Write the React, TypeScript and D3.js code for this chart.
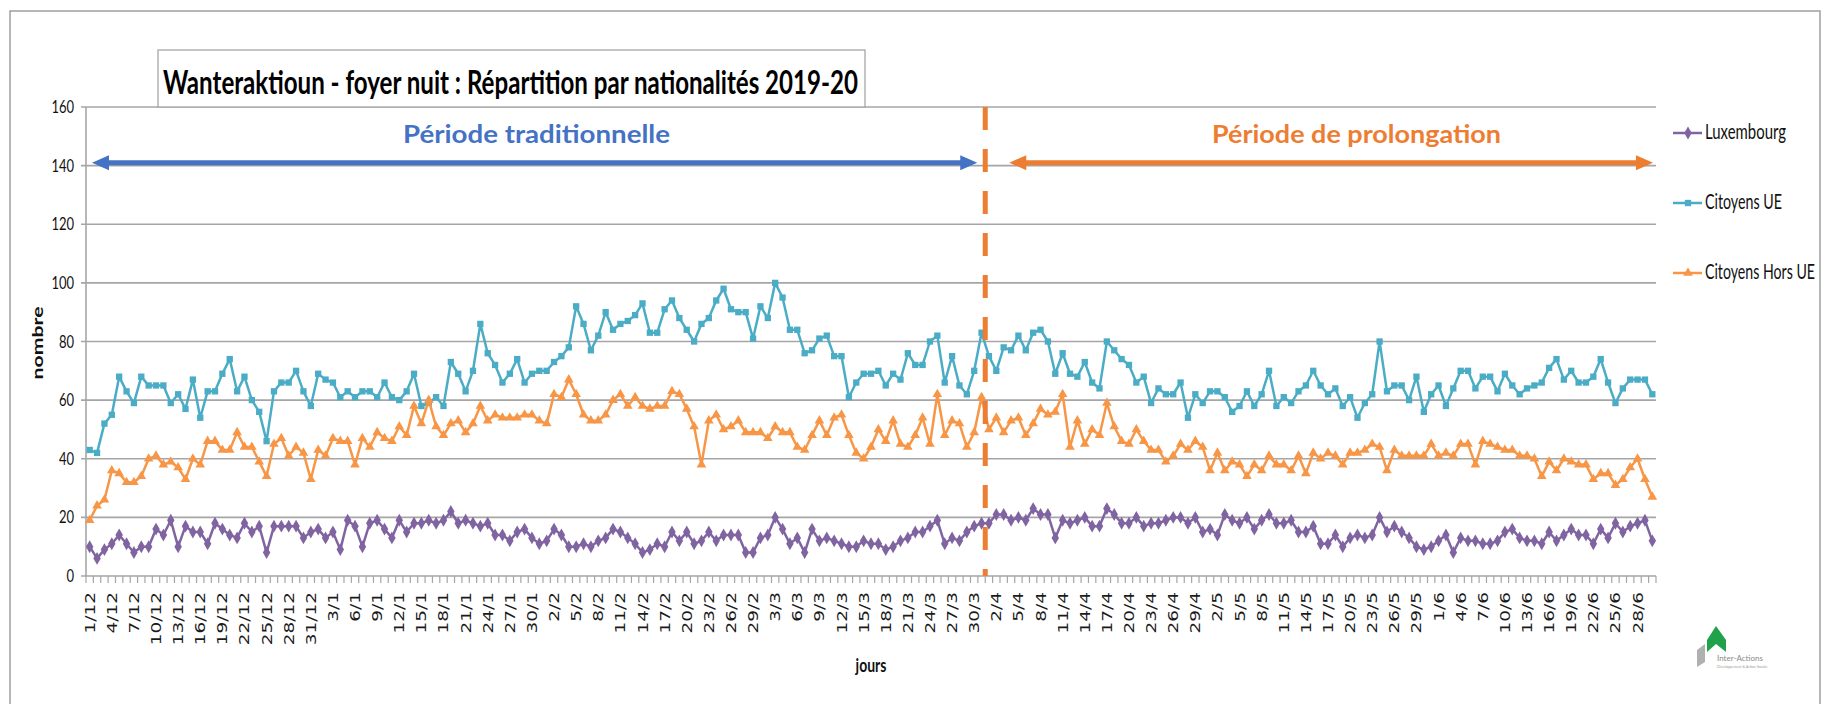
import React from 'react';
import * as d3 from 'd3';

// ---- data ----
const firstDay = new Date(2019, 11, 1);
const dayAfterLast = new Date(2020, 6, 1);
const categories: string[] = d3.timeDay.range(firstDay, dayAfterLast).map(d3.timeFormat('%-d/%-m'));

const luxembourg = [
  10,6,9,11,14,11,8,10,10,16,14,19,10,17,15,15,11,18,16,14,13,18,15,17,8,17,17,17,
  17,13,15,16,13,15,9,19,17,10,18,19,16,13,19,15,18,18,19,18,19,22,18,19,18,17,18,
  14,14,12,15,16,13,11,12,16,14,10,10,11,10,12,13,16,15,13,11,8,9,11,10,15,12,15,
  11,12,15,12,14,14,14,8,8,13,14,20,16,11,13,8,16,12,13,12,11,10,10,12,11,11,9,
  10,12,13,15,15,17,19,11,13,12,15,17,18,18,21,21,19,20,19,23,21,21,13,19,18,19,20,17,
  17,23,21,18,18,20,17,18,18,19,20,20,18,20,15,16,14,21,19,18,20,16,19,21,18,18,19,
  15,15,17,11,11,14,10,13,14,13,14,20,15,17,15,13,10,9,10,12,14,8,13,12,12,11,11,
  12,15,16,13,12,12,11,15,12,14,16,14,14,11,16,13,18,15,17,18,19,12,
];
const citoyensUE = [
  43,42,52,55,68,63,59,68,65,65,65,59,62,57,67,54,63,63,69,74,63,68,60,56,46,63,66,66,
  70,63,58,69,67,66,61,63,61,63,63,61,66,61,60,63,69,58,59,61,58,73,69,63,70,86,76,
  72,66,69,74,66,69,70,70,73,75,78,92,86,77,82,90,84,86,87,89,93,83,83,91,94,88,84,
  80,86,88,94,98,91,90,90,81,92,88,100,95,84,84,76,77,81,82,75,75,61,66,69,69,70,65,
  69,67,76,72,72,80,82,66,75,65,62,70,83,75,70,78,77,82,77,83,84,80,69,76,69,68,73,66,
  64,80,77,74,72,66,68,59,64,62,62,66,54,62,59,63,63,61,56,58,63,58,62,70,58,61,59,
  63,65,70,65,62,64,58,61,54,59,62,80,63,65,65,60,68,56,62,65,58,64,70,70,64,68,68,
  63,69,65,62,64,65,66,71,74,67,70,66,66,68,74,66,59,64,67,67,67,62,
];
const citoyensHorsUE = [
  19,24,26,36,35,32,32,34,40,41,38,39,37,33,40,38,46,46,43,43,49,44,44,39,34,45,47,41,
  44,42,33,43,41,47,46,46,38,47,44,49,47,46,51,48,58,52,60,51,48,52,53,49,52,58,53,
  55,54,54,54,55,55,53,52,62,61,67,62,55,53,53,55,60,62,58,61,58,57,58,58,63,62,57,
  51,38,53,55,50,51,53,49,49,49,47,51,49,49,44,43,48,53,48,54,55,48,42,40,44,50,46,
  53,45,44,48,54,45,62,48,53,52,44,49,61,50,54,49,53,54,48,52,57,55,56,62,44,53,45,50,
  48,59,51,46,45,50,46,43,43,39,41,45,43,46,44,36,42,36,39,38,34,38,36,41,38,38,36,
  41,35,42,40,42,41,38,42,42,43,45,44,36,43,41,41,41,41,45,41,42,41,45,45,38,46,45,
  44,43,43,41,41,40,34,39,36,40,39,38,38,33,35,35,31,33,37,40,33,27,
];
const seriesNames = ['Luxembourg', 'Citoyens UE', 'Citoyens Hors UE'];
const seriesColors = ['#8064A2', '#4BACC6', '#F79646'];
const yTicks = [0, 20, 40, 60, 80, 100, 120, 140, 160];
const title = 'Wanteraktioun - foyer nuit : Répartition par nationalités 2019-20';
const periodLabels = ['Période traditionnelle', 'Période de prolongation'];
const periodColors = ['#4472C4', '#ED7D31'];
const splitCategory = '1/4';
const arrowLevel = 140;
const xTitle = 'jours';
const yTitle = 'nombre';

// ---- layout ----
const W = 1822, H = 704;
const PL = 86, PR = 1656, PT = 107, PB = 576;
const GRID = '#A6A6A6';
const legendWidths = [81, 77, 110];

export default function App() {
  const x = d3.scaleBand<string>().domain(categories).range([PL, PR]).padding(0);
  const bw = x.bandwidth();
  const y = d3.scaleLinear().domain([0, 160]).range([PB, PT]);
  const cx = (c: string) => (x(c) as number) + bw / 2;

  const series = [luxembourg, citoyensUE, citoyensHorsUE];
  const symbols = [d3.symbolDiamond, d3.symbolSquare, d3.symbolTriangle];
  const symSizes = [48, 40, 40];
  const line = d3.line<number>().x((_, i) => cx(categories[i])).y(v => y(v));

  const splitX = x(splitCategory) as number;
  const ay = y(arrowLevel) - 3;

  const arrow = (x1: number, x2: number, color: string) => {
    const hl = 17, hw = 7.5;
    return (
      <g>
        <line x1={x1 + hl - 2} x2={x2 - hl + 2} y1={ay} y2={ay} stroke={color} strokeWidth={5} />
        <path d={`M${x1},${ay} L${x1 + hl},${ay - hw} L${x1 + hl},${ay + hw} Z`} fill={color} />
        <path d={`M${x2},${ay} L${x2 - hl},${ay - hw} L${x2 - hl},${ay + hw} Z`} fill={color} />
      </g>
    );
  };

  const legendY = [133, 203, 273];

  return (
    <svg width={W} height={H} style={{ position: 'absolute', left: 0, top: 0, background: '#fff' }}
      fontFamily="Lato, 'Open Sans', sans-serif">
      <rect x={0} y={0} width={W} height={H} fill="#fff" />
      {/* outer frame */}
      <path d={`M10,${H} L10,11 L1820,11 L1820,${H}`} fill="none" stroke="#A0A0A0" strokeWidth={1.5} />

      {/* gridlines */}
      {yTicks.map(t => (
        <g key={t}>
          <line x1={PL - 5} x2={PR} y1={y(t)} y2={y(t)} stroke={GRID} strokeWidth={1.6} />
          <text transform={`translate(${PL - 12},${y(t) + 6}) scale(1,1.4)`} textAnchor="end" fontSize={13} fill="#111">{t}</text>
        </g>
      ))}
      {/* y axis */}
      <line x1={PL} x2={PL} y1={PT} y2={PB} stroke={GRID} strokeWidth={1.6} />
      {/* x axis ticks */}
      {categories.map((c, i) => (
        <line key={'t' + i} x1={x(c) as number} x2={x(c) as number} y1={PB} y2={PB + 7} stroke={GRID} strokeWidth={1.2} />
      ))}
      <line x1={PR} x2={PR} y1={PB} y2={PB + 7} stroke={GRID} strokeWidth={1.2} />
      {categories.map((c, i) => i % 3 === 0 ? (
        <text key={'l' + i} transform={`translate(${cx(c) + 5},${PB + 16}) scale(1,1.32) rotate(-90)`}
          textAnchor="end" fontSize={14} fontFamily="'DejaVu Sans', sans-serif" fill="#1a1a1a">{c}</text>
      ) : null)}

      {/* series */}
      {series.map((s, k) => (
        <g key={'s' + k}>
          <path d={line(s) as string} fill="none" stroke={seriesColors[k]} strokeWidth={2.5} strokeLinejoin="round" />
          {s.map((v, i) => (
            <path key={i} transform={`translate(${cx(categories[i])},${y(v)})`}
              d={d3.symbol(symbols[k], symSizes[k])() as string} fill={seriesColors[k]} />
          ))}
        </g>
      ))}

      {/* period separator */}
      <line x1={splitX} x2={splitX} y1={PT} y2={PB} stroke={periodColors[1]} strokeWidth={5} strokeDasharray="23 19" />

      {/* arrows */}
      {arrow(92, splitX - 8, periodColors[0])}
      {arrow(splitX + 24, PR - 3, periodColors[1])}
      <text x={403} y={143} fontSize={25} fontWeight={700} fill={periodColors[0]} textLength={267} lengthAdjust="spacingAndGlyphs">{periodLabels[0]}</text>
      <text x={1212} y={143} fontSize={25} fontWeight={700} fill={periodColors[1]} textLength={289} lengthAdjust="spacingAndGlyphs">{periodLabels[1]}</text>

      {/* title */}
      <rect x={158} y={50} width={707} height={57} fill="#fff" stroke="#A6A6A6" strokeWidth={1.3} />
      <text transform="translate(163,94) scale(1,1.45)" fontSize={22} fontWeight={700} fill="#000"
        textLength={695} lengthAdjust="spacingAndGlyphs">{title}</text>

      {/* axis titles */}
      <text transform={`translate(43,343) scale(1,1.33) rotate(-90)`} textAnchor="middle" fontSize={16} fontWeight={700} fill="#111">{yTitle}</text>
      <text transform="translate(871,672) scale(1,1.3)" textAnchor="middle" fontSize={14} fontWeight={700} fill="#111">{xTitle}</text>

      {/* legend */}
      {seriesNames.map((n, k) => (
        <g key={'lg' + k}>
          <line x1={1673} x2={1702} y1={legendY[k]} y2={legendY[k]} stroke={seriesColors[k]} strokeWidth={2.5} />
          <path transform={`translate(1688,${legendY[k]})`} d={d3.symbol(symbols[k], symSizes[k])() as string} fill={seriesColors[k]} />
          <text transform={`translate(1705,${legendY[k] + 6}) scale(1,1.4)`} fontSize={15} fill="#111"
            textLength={legendWidths[k]} lengthAdjust="spacingAndGlyphs">{n}</text>
        </g>
      ))}

      {/* logo */}
      <g>
        <path d="M1697,650 L1705,644 L1705,662 L1697,667 Z" fill="#B0B0B0" />
        <path d="M1707,640 L1716,626 L1726,640 L1726,652 L1716,644 L1707,652 Z" fill="#1FA24A" />
        <text x={1717} y={661} fontSize={8} fill="#8a8a8a">Inter-Actions</text>
        <text x={1717} y={668} fontSize={3.5} fill="#9a9a9a">Développement &amp; Action Sociale</text>
      </g>
    </svg>
  );
}
